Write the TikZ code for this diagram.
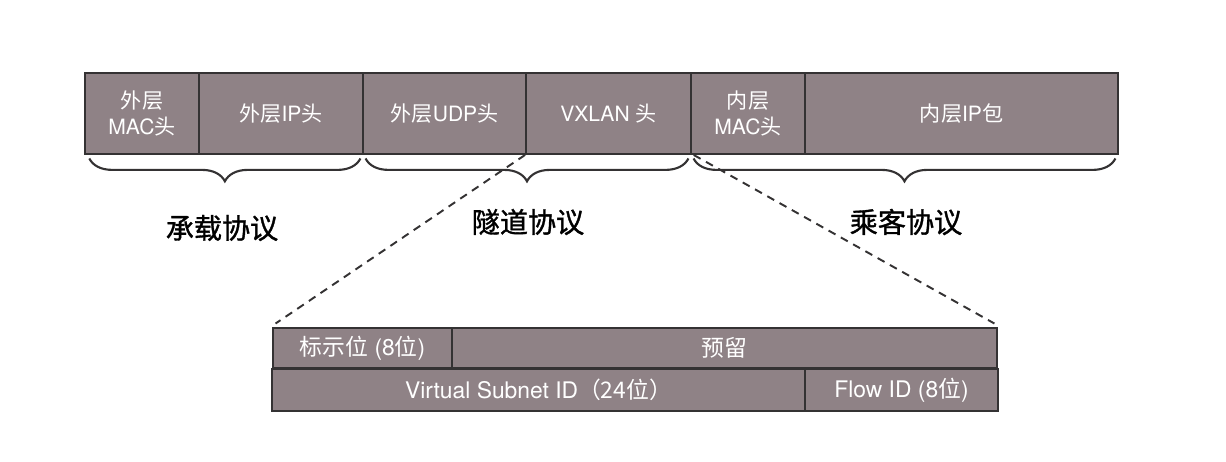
\documentclass[tikz,border=0pt]{standalone}
\usepackage{fontspec}
\setmainfont{TeX Gyre Heros}
\newfontfamily\cjk{Noto Sans CJK SC}
\newfontfamily\cjkheavy{Noto Sans CJK SC}[FakeBold=1.2]
\usetikzlibrary{decorations.pathreplacing}
\definecolor{cellfill}{RGB}{143,130,134}
\definecolor{cellline}{RGB}{52,50,51}
\newcommand{\zh}[1]{{\cjk #1}}

\begin{document}
\begin{tikzpicture}[x=0.02cm,y=-0.02cm,
    cell/.style={draw=cellline, line width=1.1pt, fill=cellfill, text=white,
      inner sep=0pt, align=center, font=\fontsize{12}{15}\selectfont},
    field/.style={cell, font=\fontsize{13}{15}\selectfont},
    bracket/.style={draw=cellline, line width=1.2pt, decorate,
      decoration={brace, mirror, amplitude=13pt}},
    layer/.style={font=\cjkheavy\fontsize{16}{18}\selectfont}]
        \useasboundingbox (0,0) rectangle (1226,462);

        % Outer packet
        \node[cell, minimum width=2.28cm, minimum height=1.62cm] (macO) at (142,113.5) {\zh{外层}\\MAC\zh{头}};
        \node[cell, minimum width=3.28cm, minimum height=1.62cm] (ipO) at (281,113.5) {\zh{外层}IP\zh{头}};
        \node[cell, minimum width=3.26cm, minimum height=1.62cm] (udpO) at (444.5,113.5) {\zh{外层}UDP\zh{头}};
        \node[cell, minimum width=3.30cm, minimum height=1.62cm] (vxlan) at (608.5,113.5) {VXLAN \zh{头}};
        \node[cell, minimum width=2.28cm, minimum height=1.62cm] (macI) at (748,113.5) {\zh{内层}\\MAC\zh{头}};
        \node[cell, minimum width=6.26cm, minimum height=1.62cm] (ipI) at (961.5,113.5) {\zh{内层}IP\zh{包}};

        % Braces
        \draw[bracket] ([xshift=3pt,yshift=-2pt]macO.south west) -- ([xshift=-2pt,yshift=-2pt]ipO.south east);
        \draw[bracket] ([xshift=2pt,yshift=-2pt]udpO.south west) -- ([xshift=-2pt,yshift=-2pt]vxlan.south east);
        \draw[bracket] ([xshift=2pt,yshift=-2pt]macI.south west) -- ([xshift=-2pt,yshift=-2pt]ipI.south east);

        % Labels
        \node[layer] (carrier) at (222,228) {承载协议};
        \node[layer] (tunnel) at (528,222) {隧道协议};
        \node[layer] (passenger) at (906,222) {乘客协议};

        % VXLAN header fields
        \node[field, minimum width=3.58cm, minimum height=0.80cm] (flags) at (362.5,348) {\zh{标示位} (8\zh{位})};
        \node[field, minimum width=10.90cm, minimum height=0.80cm] (resv) at (724.5,348) {\zh{预留}};
        \node[field, minimum width=10.66cm, minimum height=0.84cm] (vni) at (538.5,390) {Virtual Subnet ID\zh{（24位）}};
        \node[field, minimum width=3.86cm, minimum height=0.84cm] (flow) at (901.5,390) {Flow ID (8\zh{位})};

        % Zoom lines
        \draw[dashed, line width=1.1pt, dash pattern=on 4.5pt off 3.5pt, cellline] (vxlan.south west) -- ([xshift=2pt,yshift=2pt]flags.north west);
        \draw[dashed, line width=1.1pt, dash pattern=on 4.5pt off 3.5pt, cellline] ([xshift=1pt]vxlan.south east) -- ([xshift=-2pt,yshift=2pt]resv.north east);

    \end{tikzpicture}
\end{document}
